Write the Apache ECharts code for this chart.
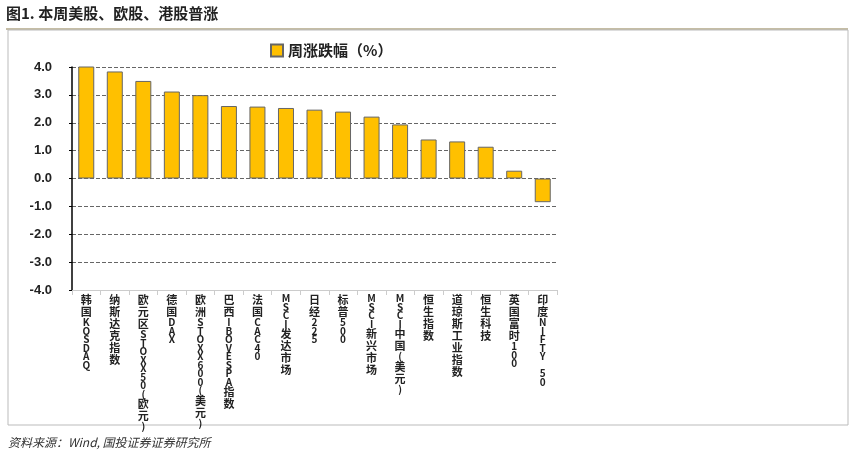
<!DOCTYPE html><html><head><meta charset="utf-8"><script src="https://cdn.jsdelivr.net/npm/echarts@6/dist/echarts.min.js"></script>
<style>body{margin:0;background:#fff}#c{width:853px;height:458px}</style></head><body><div id="c"></div><script>
const categories=['韩国KOSDAQ','纳斯达克指数','欧元区STOXX50(欧元)','德国DAX','欧洲STOXX600(美元)','巴西IBOVESPA指数','法国CAC40','MSCI发达市场','日经225','标普500','MSCI新兴市场','MSCI中国(美元)','恒生指数','道琼斯工业指数','恒生科技','英国富时100','印度NIFTY 50'];
const values=[4.05,3.84,3.50,3.12,2.99,2.60,2.58,2.53,2.47,2.40,2.22,1.94,1.40,1.33,1.14,0.28,-0.85];
const yTicks=[-4,-3,-2,-1,0,1,2,3,4];
const seriesName='周涨跌幅（%）';
function vert(s){return s.split('').map(ch=>/[\u4e00-\u9fff]/.test(ch)?'{c|'+ch+'}':'{l|'+(ch===' '?'\u00a0':ch)+'}').join('\n');}
const chart=echarts.init(document.getElementById('c'));
chart.setOption({
graphic:[
{type:'text',left:6,top:6,style:{text:'图1. 本周美股、欧股、港股普涨',font:'bold 15px "Noto Sans CJK SC"',fill:'#222'}},
{type:'line',shape:{x1:6,y1:29,x2:848,y2:29},style:{stroke:'#8a7a4a',lineWidth:1}},
{type:'rect',shape:{x:8,y:30,width:840,height:395},style:{fill:'none',stroke:'#bbb',lineWidth:1}},
{type:'text',left:8,top:436,style:{text:'资料来源：Wind, 国投证券证券研究所',font:'italic 12px "Noto Sans CJK SC"',fill:'#333'}}
],
legend:{top:38,left:265,icon:'rect',itemWidth:12,itemHeight:12,textStyle:{fontSize:15,fontWeight:'bold',color:'#222',fontFamily:'Noto Sans CJK SC'},data:[seriesName]},
grid:{left:72,right:296,top:67,bottom:168,containLabel:false},
xAxis:{type:'category',data:categories,axisLine:{onZero:false,lineStyle:{color:'#ccc'}},axisTick:{show:true,lineStyle:{color:'#ccc'}},
axisLabel:{interval:0,margin:4,color:'#222',fontFamily:'Noto Sans CJK SC',formatter:v=>vert(v),verticalAlign:'top',
rich:{c:{fontSize:11,fontWeight:'bold',lineHeight:12,fontFamily:'Noto Sans CJK SC'},l:{fontSize:10,fontWeight:'bold',lineHeight:8.5,fontFamily:'Noto Sans CJK SC'}}}},
yAxis:{type:'value',min:-4,max:4,interval:1,axisLine:{show:true,lineStyle:{color:'#000',width:1.5}},axisTick:{show:true,length:3,lineStyle:{color:'#000'}},
splitLine:{lineStyle:{type:'dashed',color:'#666'}},axisLabel:{formatter:v=>yTicks.includes(v)?v.toFixed(1):'',fontSize:13,fontWeight:'bold',color:'#222',margin:20}},
series:[{name:seriesName,type:'bar',data:values,barWidth:16,itemStyle:{color:'#FFC000',borderColor:'#666',borderWidth:1}}]
});
</script></body></html>
